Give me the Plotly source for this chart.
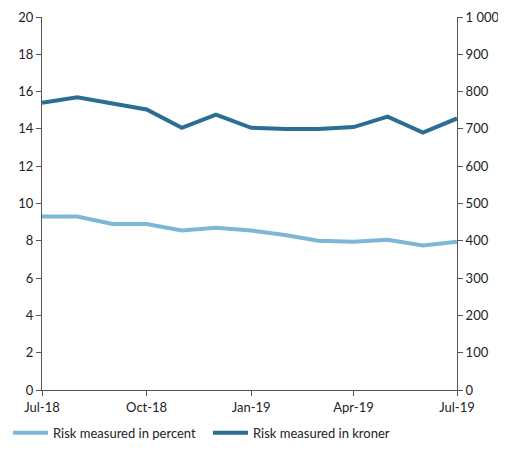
import plotly.graph_objects as go

months = ["2018-07-01", "2018-08-01", "2018-09-01", "2018-10-01", "2018-11-01", "2018-12-01",
          "2019-01-01", "2019-02-01", "2019-03-01", "2019-04-01", "2019-05-01", "2019-06-01",
          "2019-07-01"]
risk_percent = [9.3, 9.3, 8.9, 8.9, 8.55, 8.7, 8.55, 8.3, 8.0, 7.95, 8.05, 7.75, 7.95]
risk_kroner = [770, 785, 768, 752, 703, 738, 703, 700, 700, 705, 733, 690, 728]
tick_vals = ["2018-07-01", "2018-10-01", "2019-01-01", "2019-04-01", "2019-07-01"]
tick_text = ["Jul-18", "Oct-18", "Jan-19", "Apr-19", "Jul-19"]
right_vals = [0, 100, 200, 300, 400, 500, 600, 700, 800, 900, 1000]
right_text = ["0", "100", "200", "300", "400", "500", "600", "700", "800", "900", "1 000"]

fig = go.Figure()
fig.add_trace(go.Scatter(x=months, y=risk_percent, name="Risk measured in percent",
                         mode="lines", line=dict(color="#7db7d6", width=4)))
fig.add_trace(go.Scatter(x=months, y=risk_kroner, name="Risk measured in kroner",
                         mode="lines", line=dict(color="#2b6e94", width=4), yaxis="y2"))

axis_common = dict(showgrid=False, showline=True, linecolor="#555", linewidth=1,
                   ticks="outside", ticklen=5, tickcolor="#555", zeroline=False,
                   automargin=False)
fig.update_layout(
    width=498, height=442,
    margin=dict(l=34, r=49, t=9, b=60),
    paper_bgcolor="white", plot_bgcolor="white",
    font=dict(family="Lato", size=13, color="#222"),
    xaxis=dict(axis_common, type="date", range=["2018-07-01", "2019-07-01"],
               tickvals=tick_vals, ticktext=tick_text),
    yaxis=dict(axis_common, range=[0, 20], dtick=2),
    yaxis2=dict(axis_common, range=[0, 1000], overlaying="y", side="right",
                tickvals=right_vals, ticktext=right_text),
    legend=dict(orientation="h", yref="container", xref="container",
                x=0.0, xanchor="left", y=0.005, yanchor="bottom",
                font=dict(size=13), entrywidth=150, itemwidth=35),
)
fig.write_html("out.html")
